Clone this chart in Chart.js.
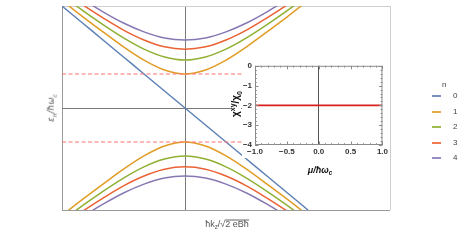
<!DOCTYPE html>
<html>
<head>
<meta charset="utf-8">
<script src="https://cdn.jsdelivr.net/npm/chart.js@4.4.1/dist/chart.umd.min.js"></script>
<style>
  html, body { margin: 0; padding: 0; background: #fff; }
  #wrap { position: relative; width: 464px; height: 246px; overflow: hidden; font-family: "Liberation Sans", Arial, sans-serif; }
  #main { position: absolute; left: 0; top: 0; }
  #inset { position: absolute; left: 242px; top: 58px; background: #fff; }
  .lbl { position: absolute; white-space: nowrap; line-height: 1; }
  .rot { transform: translate(-50%, -50%) rotate(-90deg); }
  .ctr { transform: translate(-50%, -50%); }
  sub, sup { font-size: 70%; line-height: 0; }
  .sq { display: inline-block; line-height: 0.85; border-top: 1px solid #666; }
  #legend { position: absolute; left: 428px; top: 80px; font-size: 8px; color: #444; }
  #legend .row { position: absolute; left: 0; height: 10px; width: 40px; }
  #legend .sw { position: absolute; left: 4px; top: 4px; width: 9px; height: 2px; opacity: 0.85; }
  #legend .tx { position: absolute; left: 25px; top: 0; }
</style>
</head>
<body>
<div id="wrap">
  <canvas id="main" width="464" height="246"></canvas>
  <canvas id="inset" width="148" height="100"></canvas>
  <div class="lbl rot" style="left:51px; top:108px; font-size:8.5px; color:#555; font-style:italic; font-family:'DejaVu Sans', sans-serif;">&epsilon;<sub>n</sub>/&#295;&omega;<sub>c</sub></div>
  <div class="lbl ctr" style="left:227px; top:224px; font-size:9px; color:#555;">&#295;k<sub>z</sub>/&radic;<span class="sq">2 eB&#295;</span></div>
  <div class="lbl rot" style="left:236px; top:104px; font-size:10px; color:#111; font-weight:bold; background:#fff; padding:0 3px;">&chi;<sup>xy</sup>/&chi;<sub>0</sub></div>
  <div class="lbl ctr" style="left:320px; top:170px; font-size:9px; color:#111; font-weight:bold; font-style:italic;">&mu;/&#295;&omega;<sub>c</sub></div>
  <div id="legend"></div>
</div>
<script>
// momentum values (hbar k_z / sqrt(2eB hbar))
const kz = [-3, -2.5, -2, -1.5, -1, -0.5, 0, 0.5, 1, 1.5, 2, 2.5, 3];

// Landau levels
const levelN0 = [3, 2.5, 2, 1.5, 1, 0.5, 0, -0.5, -1, -1.5, -2, -2.5, -3];
const levelN1up = [3.16, 2.69, 2.24, 1.80, 1.41, 1.12, 1.00, 1.12, 1.41, 1.80, 2.24, 2.69, 3.16];
const levelN2up = [3.32, 2.87, 2.45, 2.06, 1.73, 1.50, 1.41, 1.50, 1.73, 2.06, 2.45, 2.87, 3.32];
const levelN3up = [3.46, 3.04, 2.65, 2.29, 2.00, 1.80, 1.73, 1.80, 2.00, 2.29, 2.65, 3.04, 3.46];
const levelN4up = [3.61, 3.20, 2.83, 2.50, 2.24, 2.06, 2.00, 2.06, 2.24, 2.50, 2.83, 3.20, 3.61];
const levelN1dn = [-3.16, -2.69, -2.24, -1.80, -1.41, -1.12, -1.00, -1.12, -1.41, -1.80, -2.24, -2.69, -3.16];
const levelN2dn = [-3.32, -2.87, -2.45, -2.06, -1.73, -1.50, -1.41, -1.50, -1.73, -2.06, -2.45, -2.87, -3.32];
const levelN3dn = [-3.46, -3.04, -2.65, -2.29, -2.00, -1.80, -1.73, -1.80, -2.00, -2.29, -2.65, -3.04, -3.46];
const levelN4dn = [-3.61, -3.20, -2.83, -2.50, -2.24, -2.06, -2.00, -2.06, -2.24, -2.50, -2.83, -3.20, -3.61];

// dashed guide lines at the gap edges
const gapX = [-3, 1.5];
const gapUp = [1, 1];
const gapDn = [-1, -1];

// inset: Hall response vs chemical potential
const muVals = [-1, -0.5, 0, 0.5, 1];
const chiVals = [-2, -2, -2, -2, -2];
const chiTicks = [0, -1, -2, -3, -4];
const muTicks = [-1, -0.5, 0, 0.5, 1];

const legendLabels = ['0', '1', '2', '3', '4'];
const colors = ['#5E81B5', '#E19C24', '#8FB032', '#EB6235', '#8778B3'];

function pts(xs, ys) {
    return xs.map((x, i) => ({ x: x, y: ys[i] }));
}

function curve(ys, color) {
    return {
        data: pts(kz, ys),
        borderColor: color,
        borderWidth: 1.5,
        pointRadius: 0,
        cubicInterpolationMode: 'monotone',
        fill: false
    };
}

function dashed(ys) {
    return {
        data: pts(gapX, ys),
        borderColor: '#FF7070',
        borderWidth: 1,
        borderDash: [4, 2.5],
        pointRadius: 0,
        fill: false
    };
}

const mainDatasets = [
    dashed(gapUp),
    dashed(gapDn),
    curve(levelN4up, colors[4]), curve(levelN4dn, colors[4]),
    curve(levelN3up, colors[3]), curve(levelN3dn, colors[3]),
    curve(levelN2up, colors[2]), curve(levelN2dn, colors[2]),
    curve(levelN1up, colors[1]), curve(levelN1dn, colors[1]),
    curve(levelN0, colors[0])
];

const frameColor = (min, max, lo, hi) => (ctx) => {
    const v = ctx.tick.value;
    if (v === 0) return '#7a7a7a';
    if (v === min) return lo;
    if (v === max) return hi;
    return 'rgba(0,0,0,0)';
};

new Chart(document.getElementById('main'), {
    type: 'line',
    data: { datasets: mainDatasets },
    options: {
        responsive: false,
        animation: false,
        events: [],
        layout: { padding: { left: 62, right: 74, top: 6, bottom: 36 } },
        plugins: { legend: { display: false }, tooltip: { enabled: false } },
        scales: {
            x: {
                type: 'linear', min: -3, max: 5,
                ticks: { display: false, stepSize: 1 },
                grid: { drawTicks: false, color: frameColor(-3, 5, '#9a9a9a', '#cfcfcf') },
                border: { display: false }
            },
            y: {
                type: 'linear', min: -3, max: 3,
                ticks: { display: false, stepSize: 1 },
                grid: { drawTicks: false, color: frameColor(-3, 3, '#9a9a9a', '#cfcfcf') },
                border: { display: false }
            }
        }
    }
});

// inward frame ticks, Mathematica style
const insetFrame = {
    id: 'insetFrame',
    afterDatasetsDraw(chart) {
        const { ctx, chartArea: a, scales } = chart;
        ctx.save();
        ctx.strokeStyle = '#8a8a8a';
        ctx.lineWidth = 1;
        ctx.strokeRect(a.left + 0.5, a.top + 0.5, a.right - a.left - 1, a.bottom - a.top - 1);
        ctx.beginPath();
        for (let i = 0; i <= 20; i++) {
            const v = -1 + i * 0.1;
            const px = Math.round(scales.x.getPixelForValue(v)) + 0.5;
            const len = i % 5 === 0 ? 3.5 : 1.8;
            ctx.moveTo(px, a.bottom); ctx.lineTo(px, a.bottom - len);
            ctx.moveTo(px, a.top); ctx.lineTo(px, a.top + len);
        }
        for (let i = 0; i <= 20; i++) {
            const v = -i * 0.2;
            const py = Math.round(scales.y.getPixelForValue(v)) + 0.5;
            const len = i % 5 === 0 ? 3.5 : 1.8;
            ctx.moveTo(a.left, py); ctx.lineTo(a.left + len, py);
            ctx.moveTo(a.right, py); ctx.lineTo(a.right - len, py);
        }
        ctx.stroke();
        ctx.restore();
    }
};

const fmtMinus = (s) => s.replace('-', '\u2212');

new Chart(document.getElementById('inset'), {
    type: 'line',
    data: {
        datasets: [{
            data: pts(muVals, chiVals),
            borderColor: '#D81E1E',
            borderWidth: 1.6,
            pointRadius: 0,
            fill: false
        }]
    },
    options: {
        responsive: false,
        animation: false,
        events: [],
        layout: { padding: { left: 0, right: 6, top: 7, bottom: 0 } },
        plugins: { legend: { display: false }, tooltip: { enabled: false } },
        scales: {
            x: {
                type: 'linear', min: -1, max: 1,
                afterBuildTicks: (s) => { s.ticks = muTicks.map(v => ({ value: v })); },
                afterFit: (s) => { s.height = 13; },
                ticks: {
                    padding: 2, maxRotation: 0, autoSkip: false,
                    font: { size: 8, weight: 'bold', family: '"Liberation Sans", Arial' },
                    color: '#333',
                    callback: (v) => fmtMinus(Number(v).toFixed(1))
                },
                grid: { drawTicks: false, color: (c) => c.tick.value === 0 ? '#555' : 'rgba(0,0,0,0)' },
                border: { display: false }
            },
            y: {
                type: 'linear', min: -4, max: 0,
                afterBuildTicks: (s) => { s.ticks = chiTicks.map(v => ({ value: v })); },
                afterFit: (s) => { s.width = 13; },
                ticks: {
                    padding: 3,
                    font: { size: 8, weight: 'bold', family: '"Liberation Sans", Arial' },
                    color: '#333',
                    callback: (v) => fmtMinus(String(v))
                },
                grid: { drawTicks: false, color: 'rgba(0,0,0,0)' },
                border: { display: false }
            }
        }
    },
    plugins: [insetFrame]
});

// legend
const legend = document.getElementById('legend');
const title = document.createElement('div');
title.className = 'row';
title.style.top = '0px';
title.innerHTML = '<span class="tx" style="left:14px">n</span>';
legend.appendChild(title);
legendLabels.forEach((lab, i) => {
    const row = document.createElement('div');
    row.className = 'row';
    row.style.top = Math.round(11 + i * 15.5) + 'px';
    row.innerHTML = `<span class="sw" style="background:${colors[i]}"></span><span class="tx">${lab}</span>`;
    legend.appendChild(row);
});
</script>
</body>
</html>
